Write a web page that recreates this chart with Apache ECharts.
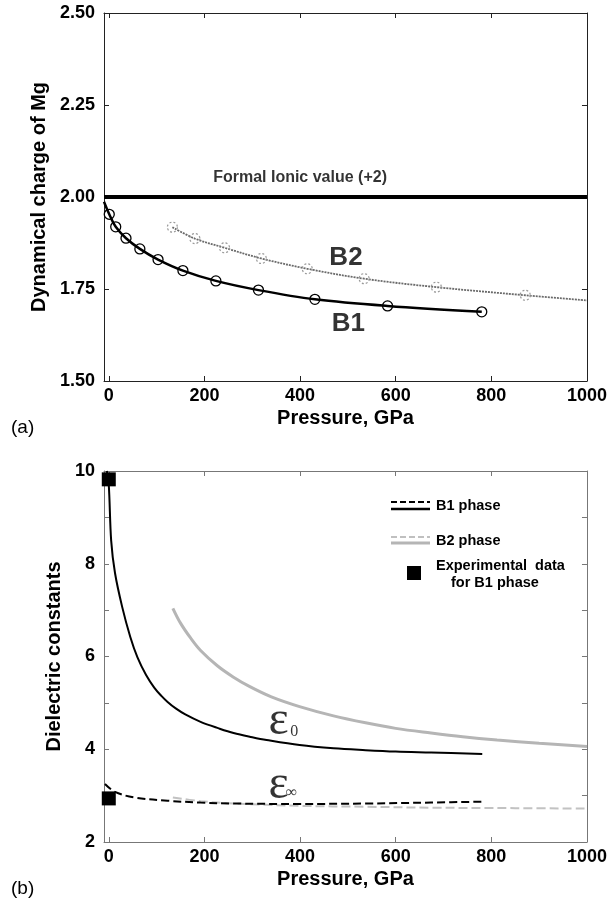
<!DOCTYPE html>
<html>
<head>
<meta charset="utf-8">
<script src="https://cdn.jsdelivr.net/npm/echarts@6/dist/echarts.min.js"></script>
<style>
html,body{margin:0;padding:0;background:#fff;}
#chart{width:610px;height:902px;}
</style>
</head>
<body>
<div id="chart"></div>
<script>
// ---------- Data ----------
const pressureTicks = [0, 200, 400, 600, 800, 1000];

// (a) Dynamical charge of Mg
const formalP = [-10, 1000];
const formalQ = [2.0, 2.0];
const b1P = [1, 14.5, 36, 65, 103, 155, 224, 313, 431, 583, 780];
const b1Q = [1.953, 1.919, 1.888, 1.859, 1.830, 1.800, 1.772, 1.747, 1.722, 1.704, 1.688];
const b1CurveP = [-10, 1, 14.5, 36, 65, 103, 155, 224, 313, 431, 583, 780];
const b1CurveQ = [1.987, 1.953, 1.919, 1.888, 1.859, 1.830, 1.800, 1.772, 1.747, 1.722, 1.704, 1.688];
const b2P = [133, 180, 242, 319, 415, 534, 685, 871];
const b2Q = [1.918, 1.887, 1.862, 1.833, 1.805, 1.778, 1.755, 1.733];
const b2CurveP = [133, 180, 242, 319, 415, 534, 685, 871, 1000];
const b2CurveQ = [1.918, 1.887, 1.862, 1.833, 1.805, 1.778, 1.755, 1.733, 1.719];

// (b) Dielectric constants
const eps0B1P = [-4, 0, 5, 13, 28, 45, 60, 78, 95, 110, 123, 140, 160, 192, 230, 261, 300, 330, 399, 470, 537, 600, 674, 781];
const eps0B1 = [10.0, 9.7, 8.5, 7.8, 7.07, 6.42, 5.98, 5.6, 5.33, 5.15, 5.02, 4.88, 4.75, 4.59, 4.45, 4.35, 4.26, 4.2, 4.09, 4.02, 3.98, 3.95, 3.93, 3.9];
const eps0B2P = [134, 150, 171, 192, 227, 260, 295, 340, 399, 470, 537, 600, 674, 740, 812, 900, 1000];
const eps0B2 = [7.04, 6.72, 6.40, 6.13, 5.80, 5.56, 5.35, 5.13, 4.92, 4.72, 4.57, 4.45, 4.35, 4.27, 4.2, 4.13, 4.06];
const epsInfB1P = [-8, 13, 54, 123, 192, 261, 399, 537, 674, 781];
const epsInfB1 = [3.25, 3.08, 2.96, 2.89, 2.85, 2.83, 2.82, 2.83, 2.85, 2.87];
const epsInfB2P = [134, 192, 261, 399, 537, 674, 850, 1000];
const epsInfB2 = [2.96, 2.88, 2.83, 2.78, 2.76, 2.74, 2.73, 2.72];
const expP = [0, 0];
const expEps = [9.82, 2.94];

// Text annotations (data coordinates)
const topLabels = [
  { text: 'Formal Ionic value (+2)', p: 400, q: 2.052, size: 16 },
  { text: 'B2', p: 496, q: 1.834, size: 26 },
  { text: 'B1', p: 501, q: 1.656, size: 26 }
];
const epsSymbols = [
  { text: 'ε', p: 355, v: 4.59 },
  { text: 'ε', p: 355, v: 3.23 }
];
const epsSubs = [
  { text: '0', p: 388, v: 4.37 },
  { text: '∞', p: 382, v: 3.07 }
];

// ---------- helpers ----------
const zip = (a, b) => a.map((x, i) => [x, b[i]]);
const FONT = '"Liberation Sans", Arial, sans-serif';
const SMOOTH = 0.35;

function xAxes(grid, color, pos) {
  return {
    type: 'value', gridIndex: grid, position: pos, min: -10, max: 1000,
    splitLine: { show: false },
    axisLine: { show: true, onZero: false, lineStyle: { color: color, width: 1 } },
    axisTick: { show: true, inside: true, length: 5, customValues: pressureTicks, lineStyle: { color: color } },
    axisLabel: pos === 'bottom' ? {
      show: true, customValues: pressureTicks, color: '#000', fontFamily: FONT,
      fontWeight: 'bold', fontSize: 18, margin: 6, formatter: v => String(v)
    } : { show: false },
    name: pos === 'bottom' ? 'Pressure, GPa' : '',
    nameLocation: 'middle', nameGap: 27,
    nameTextStyle: { color: '#000', fontFamily: FONT, fontWeight: 'bold', fontSize: 20 }
  };
}

const option = {
  animation: false,
  backgroundColor: '#fff',
  grid: [
    { left: 104, top: 13, width: 487, height: 368 },
    { left: 104, top: 471, width: 487, height: 371 }
  ],
  xAxis: [
    xAxes(0, '#222', 'bottom'),
    xAxes(0, '#222', 'top'),
    xAxes(1, '#777', 'bottom'),
    xAxes(1, '#777', 'top')
  ],
  yAxis: [
    {
      type: 'value', gridIndex: 0, position: 'left', min: 1.5, max: 2.5, interval: 0.25,
      splitLine: { show: false },
      axisLine: { show: true, onZero: false, lineStyle: { color: '#222' } },
      axisTick: { show: true, inside: true, length: 5, lineStyle: { color: '#222' } },
      axisLabel: { color: '#000', fontFamily: FONT, fontWeight: 'bold', fontSize: 18, margin: 9,
        formatter: v => v.toFixed(2) },
      name: 'Dynamical charge of Mg', nameLocation: 'middle', nameGap: 53,
      nameTextStyle: { color: '#000', fontFamily: FONT, fontWeight: 'bold', fontSize: 20 }
    },
    {
      type: 'value', gridIndex: 0, position: 'right', min: 1.5, max: 2.5, interval: 0.25,
      splitLine: { show: false },
      axisLine: { show: true, onZero: false, lineStyle: { color: '#222' } },
      axisTick: { show: true, inside: true, length: 5, lineStyle: { color: '#222' } },
      axisLabel: { show: false }
    },
    {
      type: 'value', gridIndex: 1, position: 'left', min: 2, max: 10, interval: 1,
      splitLine: { show: false },
      axisLine: { show: true, onZero: false, lineStyle: { color: '#777' } },
      axisTick: { show: true, inside: true, length: 5, lineStyle: { color: '#777' } },
      axisLabel: { color: '#000', fontFamily: FONT, fontWeight: 'bold', fontSize: 18, margin: 9,
        formatter: v => (v % 2 === 0 ? String(v) : '') },
      name: 'Dielectric constants', nameLocation: 'middle', nameGap: 28,
      nameTextStyle: { color: '#000', fontFamily: FONT, fontWeight: 'bold', fontSize: 20 }
    },
    {
      type: 'value', gridIndex: 1, position: 'right', min: 2, max: 10, interval: 1,
      splitLine: { show: false },
      axisLine: { show: true, onZero: false, lineStyle: { color: '#777' } },
      axisTick: { show: true, inside: true, length: 5, lineStyle: { color: '#777' } },
      axisLabel: { show: false }
    }
  ],
  series: [
    // ---- (a) ----
    { type: 'line', xAxisIndex: 0, yAxisIndex: 0, data: zip(formalP, formalQ), symbol: 'none',
      lineStyle: { color: '#000', width: 4 }, z: 3 },
    { type: 'line', xAxisIndex: 0, yAxisIndex: 0, data: zip(b1CurveP, b1CurveQ), symbol: 'none',
      smooth: SMOOTH, lineStyle: { color: '#000', width: 2.5 } },
    { type: 'scatter', xAxisIndex: 0, yAxisIndex: 0, data: zip(b1P, b1Q), symbol: 'circle', symbolSize: 10,
      itemStyle: { color: 'rgba(0,0,0,0)', borderColor: '#000', borderWidth: 1.3, opacity: 1 }, z: 4 },
    { type: 'line', xAxisIndex: 0, yAxisIndex: 0, data: zip(b2CurveP, b2CurveQ), symbol: 'none',
      smooth: SMOOTH, lineStyle: { color: '#6a6a6a', width: 1.8, type: [2, 1] } },
    { type: 'scatter', xAxisIndex: 0, yAxisIndex: 0, data: zip(b2P, b2Q), symbol: 'circle', symbolSize: 10,
      itemStyle: { color: 'rgba(0,0,0,0)', borderColor: '#999', borderWidth: 1.2, borderType: [2, 2], opacity: 1 }, z: 4 },
    { type: 'scatter', xAxisIndex: 0, yAxisIndex: 0, symbolSize: 1, itemStyle: { color: 'rgba(0,0,0,0)' },
      silent: true,
      data: topLabels.map(l => ({ value: [l.p, l.q], name: l.text,
        label: { show: true, position: 'inside', formatter: '{b}', color: '#000', fontFamily: FONT,
          fontWeight: 'bold', fontSize: l.size } })) },
    // ---- (b) ----
    { type: 'line', xAxisIndex: 2, yAxisIndex: 2, data: zip(eps0B2P, eps0B2), symbol: 'none',
      smooth: SMOOTH, lineStyle: { color: '#b5b5b5', width: 3 } },
    { type: 'line', xAxisIndex: 2, yAxisIndex: 2, data: zip(epsInfB2P, epsInfB2), symbol: 'none',
      smooth: SMOOTH, lineStyle: { color: '#c2c2c2', width: 2, type: [9, 4] } },
    { type: 'line', xAxisIndex: 2, yAxisIndex: 2, data: zip(eps0B1P, eps0B1), symbol: 'none',
      smooth: SMOOTH, lineStyle: { color: '#000', width: 2 } },
    { type: 'line', xAxisIndex: 2, yAxisIndex: 2, data: zip(epsInfB1P, epsInfB1), symbol: 'none',
      smooth: SMOOTH, lineStyle: { color: '#000', width: 2, type: [8, 4] } },
    { type: 'scatter', xAxisIndex: 2, yAxisIndex: 2, data: zip(expP, expEps), symbol: 'rect', symbolSize: 14,
      itemStyle: { color: '#000', opacity: 1 }, z: 5 },
    { type: 'scatter', xAxisIndex: 2, yAxisIndex: 2, symbolSize: 1, itemStyle: { color: 'rgba(0,0,0,0)' },
      silent: true,
      data: epsSymbols.map(l => ({ value: [l.p, l.v], name: l.text,
        label: { show: true, position: 'inside', formatter: '{b}', color: '#000',
          fontFamily: '"Liberation Serif", "DejaVu Serif", serif', fontSize: 48 } })) },
    { type: 'scatter', xAxisIndex: 2, yAxisIndex: 2, symbolSize: 1, itemStyle: { color: 'rgba(0,0,0,0)' },
      silent: true,
      data: epsSubs.map(l => ({ value: [l.p, l.v], name: l.text,
        label: { show: true, position: 'inside', formatter: '{b}', color: '#000',
          fontFamily: '"Liberation Serif", "DejaVu Serif", serif', fontSize: 16 } })) }
  ],
  graphic: [
    // legend of panel (b)
    { type: 'line', shape: { x1: 391, y1: 502, x2: 430, y2: 502 }, style: { stroke: '#000', lineWidth: 2, lineDash: [6, 3] } },
    { type: 'line', shape: { x1: 391, y1: 509, x2: 430, y2: 509 }, style: { stroke: '#000', lineWidth: 2.5 } },
    { type: 'text', left: 436, top: 498, style: { text: 'B1 phase', fill: '#000', font: 'bold 14.5px ' + FONT } },
    { type: 'line', shape: { x1: 391, y1: 537, x2: 430, y2: 537 }, style: { stroke: '#c0c0c0', lineWidth: 2, lineDash: [6, 3] } },
    { type: 'line', shape: { x1: 391, y1: 543, x2: 430, y2: 543 }, style: { stroke: '#b5b5b5', lineWidth: 3 } },
    { type: 'text', left: 436, top: 533, style: { text: 'B2 phase', fill: '#000', font: 'bold 14.5px ' + FONT } },
    { type: 'rect', shape: { x: 407, y: 566, width: 14, height: 14 }, style: { fill: '#000' } },
    { type: 'text', left: 436, top: 558, style: { text: 'Experimental  data', fill: '#000', font: 'bold 14.5px ' + FONT } },
    { type: 'text', left: 451, top: 575, style: { text: 'for B1 phase', fill: '#000', font: 'bold 14.5px ' + FONT } },
    // panel tags
    { type: 'text', left: 11, top: 418, style: { text: '(a)', fill: '#000', font: '19px ' + FONT } },
    { type: 'text', left: 11, top: 879, style: { text: '(b)', fill: '#000', font: '19px ' + FONT } }
  ]
};

const chart = echarts.init(document.getElementById('chart'), null, { renderer: 'canvas' });
chart.setOption(option);
</script>
</body>
</html>
